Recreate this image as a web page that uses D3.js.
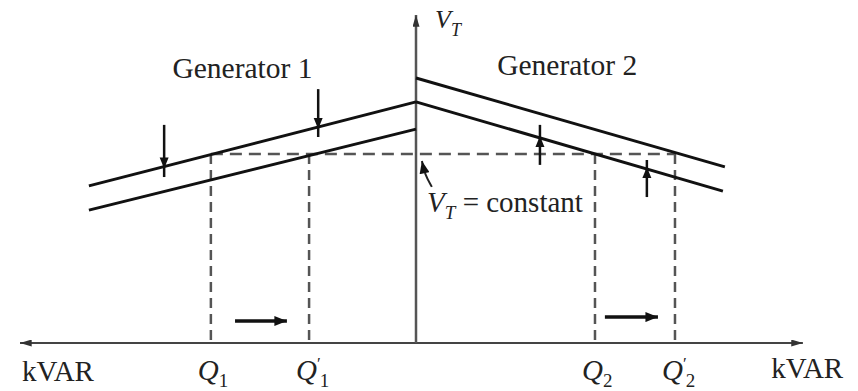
<!DOCTYPE html>
<html>
<head>
<meta charset="utf-8">
<script src="https://cdn.jsdelivr.net/npm/d3@7"></script>
<style>
  body { margin: 0; background: #fff; }
  text { font-family: "Liberation Serif", "Times New Roman", "DejaVu Serif", serif; fill: #222; }
</style>
</head>
<body>
<svg id="chart"></svg>
<script>
// droop curves, (kVAR, V_T) in arbitrary units; vertical axis at kVAR = 0
const gen1Before = [[-8.26, 4.79], [0, 7.35]];
const gen1After  = [[-8.26, 4.05], [0, 6.52]];
const gen2Before = [[0, 7.35], [7.75, 4.63]];
const gen2After  = [[0, 8.08], [7.80, 5.37]];

const vtConstant = 5.76;
const qMarks = [
  {name: "Q", sub: "1", prime: false, x: -5.18},
  {name: "Q", sub: "1", prime: true,  x: -2.70},
  {name: "Q", sub: "2", prime: false, x: 4.52},
  {name: "Q", sub: "2", prime: true,  x: 6.54}
];
// horizontal shift arrows near the kVAR axis
const shiftArrows = [
  {x0: -4.57, x1: -3.26, y: 0.67},
  {x0: 4.77, x1: 6.11, y: 0.79}
];
// vertical arrows showing the curve shifts
const curveArrows = [
  {x: -6.36, top: 6.65, bottom: 5.06, curve: gen1Before, dir: "down"},
  {x: -2.47, top: 7.74, bottom: 6.28, curve: gen1Before, dir: "down"},
  {x: 3.13,  top: 6.65, bottom: 5.43, curve: gen2Before, dir: "up"},
  {x: 5.83,  top: 5.58, bottom: 4.45, curve: gen2Before, dir: "up"}
];
const genLabels = [
  {text: "Generator 1", x: -6.15, y: 8.08},
  {text: "Generator 2", x: 2.05, y: 8.17}
];
const leader = [[0.40, 4.76], [0.22, 5.15], [0.15, 5.55]];

const width = 858, height = 391;
const svg = d3.select("#chart").attr("width", width).attr("height", height);

const x = d3.scaleLinear().domain([-10, 10]).range([20, 812]);
const y = d3.scaleLinear().domain([0, 10]).range([343, 15]);

const defs = svg.append("defs");
defs.append("marker")
  .attr("id", "axhead").attr("viewBox", "0 0 10 6")
  .attr("refX", 10).attr("refY", 3)
  .attr("markerWidth", 12).attr("markerHeight", 7)
  .attr("markerUnits", "userSpaceOnUse").attr("orient", "auto")
  .append("path").attr("d", "M0,0L10,3L0,6z").attr("fill", "#333");
defs.append("marker")
  .attr("id", "smallhead").attr("viewBox", "0 0 10 8")
  .attr("refX", 10).attr("refY", 4)
  .attr("markerWidth", 13).attr("markerHeight", 10)
  .attr("markerUnits", "userSpaceOnUse").attr("orient", "auto")
  .append("path").attr("d", "M0,0L10,4L0,8z").attr("fill", "#111");

// axes
svg.append("line")
  .attr("x1", x(0)).attr("x2", x(-10))
  .attr("y1", y(0)).attr("y2", y(0))
  .attr("stroke", "#444").attr("stroke-width", 2)
  .attr("marker-end", "url(#axhead)");
svg.append("line")
  .attr("x1", x(0)).attr("x2", x(9.77))
  .attr("y1", y(0)).attr("y2", y(0))
  .attr("stroke", "#444").attr("stroke-width", 2)
  .attr("marker-end", "url(#axhead)");
svg.append("line")
  .attr("x1", x(0)).attr("x2", x(0))
  .attr("y1", y(0)).attr("y2", y(10))
  .attr("stroke", "#555").attr("stroke-width", 2.5)
  .attr("marker-end", "url(#axhead)");

// dashed guides
svg.append("line")
  .attr("x1", x(qMarks[0].x)).attr("x2", x(qMarks[3].x))
  .attr("y1", y(vtConstant)).attr("y2", y(vtConstant))
  .attr("stroke", "#555").attr("stroke-width", 2.5).attr("stroke-dasharray", "12,7");
svg.selectAll(".qdash").data(qMarks).enter().append("line")
  .attr("x1", d => x(d.x)).attr("x2", d => x(d.x))
  .attr("y1", y(vtConstant)).attr("y2", y(0))
  .attr("stroke", "#555").attr("stroke-width", 2.5).attr("stroke-dasharray", "10,6");

// droop lines
const line = d3.line().x(d => x(d[0])).y(d => y(d[1]));
[gen1Before, gen1After, gen2Before, gen2After].forEach(pts => {
  svg.append("path").attr("d", line(pts))
    .attr("fill", "none").attr("stroke", "#111").attr("stroke-width", 3);
});

// vertical shift arrows
const at = (curve, v) => {
  const [a, b] = curve;
  return a[1] + (v - a[0]) * (b[1] - a[1]) / (b[0] - a[0]);
};
curveArrows.forEach(d => {
  const cy = at(d.curve, d.x);
  svg.append("line")
    .attr("x1", x(d.x)).attr("x2", x(d.x))
    .attr("y1", y(d.top)).attr("y2", y(d.bottom))
    .attr("stroke", "#111").attr("stroke-width", 2.5);
  const tip = y(cy) + (d.dir === "down" ? 2 : -2);
  const s = d.dir === "down" ? -1 : 1;
  svg.append("path")
    .attr("d", `M${x(d.x) - 4.5},${tip + s * 11}L${x(d.x)},${tip}L${x(d.x) + 4.5},${tip + s * 11}z`)
    .attr("fill", "#111");
});

// horizontal shift arrows
svg.selectAll(".shift").data(shiftArrows).enter().append("line")
  .attr("x1", d => x(d.x0)).attr("x2", d => x(d.x1))
  .attr("y1", d => y(d.y)).attr("y2", d => y(d.y))
  .attr("stroke", "#111").attr("stroke-width", 3.5)
  .attr("marker-end", "url(#smallhead)");

// leader for V_T = constant
svg.append("path")
  .attr("d", d3.line().curve(d3.curveBasis).x(d => x(d[0])).y(d => y(d[1]))(leader))
  .attr("fill", "none").attr("stroke", "#222").attr("stroke-width", 2)
  .attr("marker-end", "url(#smallhead)");

// text
svg.selectAll(".gen").data(genLabels).enter().append("text")
  .attr("x", d => x(d.x)).attr("y", d => y(d.y))
  .attr("font-size", 29.5).text(d => d.text);

const vt = svg.append("text").attr("x", x(0.48)).attr("y", 28).attr("font-size", 26);
vt.append("tspan").attr("font-style", "italic").text("V");
vt.append("tspan").attr("font-style", "italic").attr("font-size", 18).attr("dy", 8).text("T");

const vc = svg.append("text").attr("x", x(0.28)).attr("y", 212).attr("font-size", 29);
vc.append("tspan").attr("font-style", "italic").text("V");
vc.append("tspan").attr("font-style", "italic").attr("font-size", 19).attr("dy", 7).text("T");
vc.append("tspan").attr("dy", -7).text(" = constant");

svg.append("text").attr("x", x(-9.95)).attr("y", 381).attr("font-size", 29).text("kVAR");
svg.append("text").attr("x", x(8.97)).attr("y", 378).attr("font-size", 29).text("kVAR");

qMarks.forEach(d => {
  const t = svg.append("text").attr("x", x(d.x) - 13).attr("y", 380).attr("font-size", 29);
  t.append("tspan").attr("font-style", "italic").text(d.name);
  if (d.prime) {
    t.append("tspan").attr("font-size", 17).attr("dy", -11).text("′");
    t.append("tspan").attr("font-size", 19).attr("dx", -1).attr("dy", 18).text(d.sub);
  } else {
    t.append("tspan").attr("font-size", 19).attr("dy", 7).text(d.sub);
  }
});
</script>
</body>
</html>
